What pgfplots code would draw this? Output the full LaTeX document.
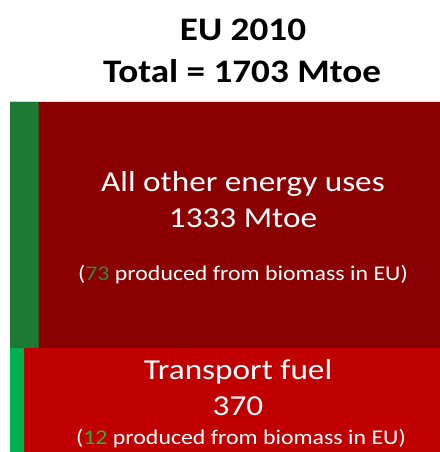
\documentclass[border=0pt]{standalone}
\usepackage{pgfplots}
\pgfplotsset{compat=1.18}
\usepackage{fontspec}
\setmainfont{Carlito}
\definecolor{darkred}{HTML}{8B0000}
\definecolor{midred}{HTML}{C00000}
\definecolor{darkgreen}{HTML}{1C7A36}
\definecolor{brightgreen}{HTML}{00B050}
\definecolor{numgreenA}{HTML}{2E8B3E}
\definecolor{numgreenB}{HTML}{2FAA4E}
\begin{document}
\begin{tikzpicture}[x=1bp,y=1bp]
\useasboundingbox (0,0) rectangle (440,452);
\begin{axis}[
  at={(10bp,0bp)}, anchor=south west,
  width=430bp, height=350bp, scale only axis,
  axis lines=none, xmin=0, xmax=430, ymin=0, ymax=350,
  clip=false,
]
% All other energy uses (1333 Mtoe), biomass share 73
\addplot[fill=darkred, draw=none] coordinates {(0,104) (430,104) (430,350) (0,350) (0,104)};
\addplot[fill=darkgreen, draw=none] coordinates {(0,104) (28.5,104) (28.5,350) (0,350) (0,104)};
% Transport fuel (370), biomass share 12
\addplot[fill=midred, draw=none] coordinates {(0,0) (430,0) (430,104) (0,104) (0,0)};
\addplot[fill=brightgreen, draw=none] coordinates {(0,0) (14,0) (14,104) (0,104) (0,0)};
% titles
\node[xscale=1.13, font=\fontsize{33}{36}\selectfont\bfseries] at (axis cs:233,422) {EU 2010};
\node[xscale=1.13, font=\fontsize{33}{36}\selectfont\bfseries] at (axis cs:232,381) {Total = 1703 Mtoe};
% texts
\node[xscale=1.15, text=white, font=\fontsize{29}{32}\selectfont] at (axis cs:233,268) {All other energy uses};
\node[xscale=1.15, text=white, font=\fontsize{29}{32}\selectfont] at (axis cs:233,234) {1333 Mtoe};
\node[xscale=1.14, text=white, font=\fontsize{21}{24}\selectfont] at (axis cs:233,177) {(\textcolor{numgreenA}{73} produced from biomass in EU)};
\node[xscale=1.15, text=white, font=\fontsize{29}{32}\selectfont] at (axis cs:228,80) {Transport fuel};
\node[xscale=1.15, text=white, font=\fontsize{29}{32}\selectfont] at (axis cs:228,46) {370};
\node[xscale=1.14, text=white, font=\fontsize{21}{24}\selectfont] at (axis cs:231,13) {(\textcolor{numgreenB}{12} produced from biomass in EU)};
\end{axis}
\end{tikzpicture}
\end{document}
